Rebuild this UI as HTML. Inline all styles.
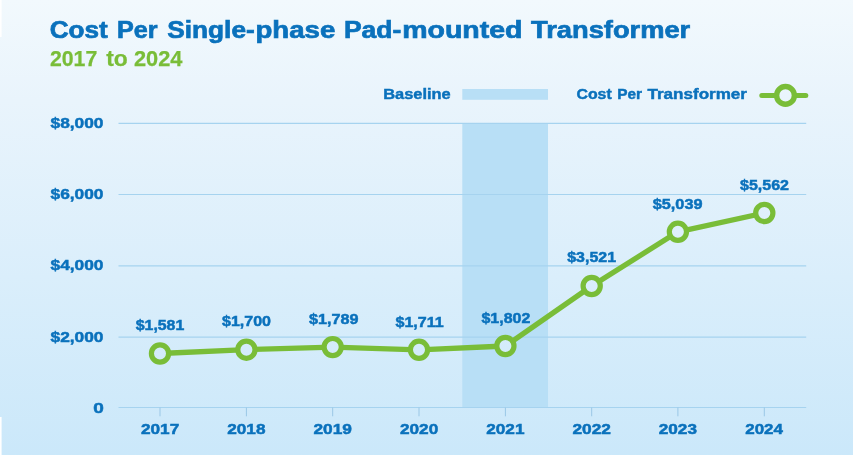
<!DOCTYPE html>
<html><head><meta charset="utf-8"><title>Cost Per Single-phase Pad-mounted Transformer</title>
<style>
html,body{margin:0;padding:0;background:#fff;}
body{width:853px;height:455px;overflow:hidden;}
svg{display:block;}
text{font-family:"Liberation Sans",sans-serif;font-weight:bold;}
</style></head><body>
<svg width="853" height="455" viewBox="0 0 853 455">
<defs>
<linearGradient id="bg" gradientUnits="userSpaceOnUse" x1="0" y1="0" x2="0" y2="455">
<stop offset="0" stop-color="#f2f9fd"/>
<stop offset="0.22" stop-color="#e9f4fc"/>
<stop offset="1" stop-color="#cbe8fa"/>
</linearGradient>
</defs>
<rect width="853" height="455" fill="url(#bg)"/>
<rect x="0" y="0" width="1.6" height="37" fill="#fff"/>
<rect x="0" y="417" width="1.6" height="38" fill="#fff"/>
<rect x="462.3" y="123" width="85.7" height="284.6" fill="#b8dff6"/>
<rect x="462.3" y="89" width="85.7" height="10.8" fill="#b8dff6"/>

<g stroke="#a6d3ef" stroke-width="1.2">
<line x1="118.5" x2="806.2" y1="123.3" y2="123.3"/>
<line x1="118.5" x2="806.2" y1="194.5" y2="194.5"/>
<line x1="118.5" x2="806.2" y1="265.8" y2="265.8"/>
<line x1="118.5" x2="806.2" y1="337.1" y2="337.1"/>
<line x1="118.5" x2="806.2" y1="407.5" y2="407.5"/>
<line x1="160.0" x2="160.0" y1="407.5" y2="416.3" stroke-width="1" stroke="#9ac7e6"/>
<line x1="246.4" x2="246.4" y1="407.5" y2="416.3" stroke-width="1" stroke="#9ac7e6"/>
<line x1="332.7" x2="332.7" y1="407.5" y2="416.3" stroke-width="1" stroke="#9ac7e6"/>
<line x1="419.0" x2="419.0" y1="407.5" y2="416.3" stroke-width="1" stroke="#9ac7e6"/>
<line x1="505.4" x2="505.4" y1="407.5" y2="416.3" stroke-width="1" stroke="#9ac7e6"/>
<line x1="591.7" x2="591.7" y1="407.5" y2="416.3" stroke-width="1" stroke="#9ac7e6"/>
<line x1="677.9" x2="677.9" y1="407.5" y2="416.3" stroke-width="1" stroke="#9ac7e6"/>
<line x1="764.3" x2="764.3" y1="407.5" y2="416.3" stroke-width="1" stroke="#9ac7e6"/>
</g>
<text font-size="24.4" fill="#0a71bc" stroke="#0a71bc" stroke-width="0.7">
<tspan x="49.74" y="37.8" textLength="58.01" lengthAdjust="spacingAndGlyphs">Cost</tspan> <tspan x="116.95" y="37.8" textLength="40.55" lengthAdjust="spacingAndGlyphs">Per</tspan> <tspan x="167.25" y="37.8" textLength="87.51" lengthAdjust="spacingAndGlyphs">Single-</tspan><tspan x="255.47" y="37.8" textLength="79.8" lengthAdjust="spacingAndGlyphs">phase</tspan> <tspan x="343.94" y="37.8" textLength="57.34" lengthAdjust="spacingAndGlyphs">Pad-</tspan><tspan x="402.22" y="37.8" textLength="120.32" lengthAdjust="spacingAndGlyphs">mounted</tspan> <tspan x="531.0" y="37.8" textLength="159.25" lengthAdjust="spacingAndGlyphs">Transformer</tspan>
</text>
<text font-size="21.3" fill="#79bd38" stroke="#79bd38" stroke-width="0.25">
<tspan x="49.98" y="65.5" textLength="47.29" lengthAdjust="spacingAndGlyphs">2017</tspan> <tspan x="106.25" y="65.5" textLength="21.54" lengthAdjust="spacingAndGlyphs">to</tspan> <tspan x="133.99" y="65.5" textLength="48.51" lengthAdjust="spacingAndGlyphs">2024</tspan>
</text>
<text font-size="15.0" fill="#0a71bc" stroke="#0a71bc" stroke-width="0.45">
<tspan x="383.24" y="98.9" textLength="67.52" lengthAdjust="spacingAndGlyphs">Baseline</tspan>
</text>
<text font-size="15.0" fill="#0a71bc" stroke="#0a71bc" stroke-width="0.45">
<tspan x="576.49" y="98.9" textLength="35.25" lengthAdjust="spacingAndGlyphs">Cost</tspan> <tspan x="617.22" y="98.9" textLength="24.77" lengthAdjust="spacingAndGlyphs">Per</tspan> <tspan x="647.5" y="98.9" textLength="99.5" lengthAdjust="spacingAndGlyphs">Transformer</tspan>
</text>
<g font-size="15.2" fill="#0a71bc" stroke="#0a71bc" stroke-width="0.5">
<text x="50.5" y="127.8" textLength="53.0" lengthAdjust="spacingAndGlyphs">$8,000</text>
<text x="50.5" y="199.1" textLength="53.0" lengthAdjust="spacingAndGlyphs">$6,000</text>
<text x="50.5" y="270.4" textLength="53.0" lengthAdjust="spacingAndGlyphs">$4,000</text>
<text x="50.5" y="341.5" textLength="53.0" lengthAdjust="spacingAndGlyphs">$2,000</text>
<text x="93.22" y="413.3" textLength="10.57" lengthAdjust="spacingAndGlyphs">0</text>
<text x="140.99" y="434.0" textLength="38.27" lengthAdjust="spacingAndGlyphs">2017</text>
<text x="227.25" y="434.0" textLength="38.26" lengthAdjust="spacingAndGlyphs">2018</text>
<text x="313.49" y="434.0" textLength="38.52" lengthAdjust="spacingAndGlyphs">2019</text>
<text x="399.99" y="434.0" textLength="38.27" lengthAdjust="spacingAndGlyphs">2020</text>
<text x="486.25" y="434.0" textLength="38.26" lengthAdjust="spacingAndGlyphs">2021</text>
<text x="572.49" y="434.0" textLength="38.52" lengthAdjust="spacingAndGlyphs">2022</text>
<text x="658.75" y="434.0" textLength="38.26" lengthAdjust="spacingAndGlyphs">2023</text>
<text x="745.25" y="434.0" textLength="37.75" lengthAdjust="spacingAndGlyphs">2024</text>
<text x="135.75" y="330.1" textLength="48.5" lengthAdjust="spacingAndGlyphs">$1,581</text>
<text x="222.0" y="326.3" textLength="49.0" lengthAdjust="spacingAndGlyphs">$1,700</text>
<text x="309.0" y="323.5" textLength="49.5" lengthAdjust="spacingAndGlyphs">$1,789</text>
<text x="395.5" y="327.3" textLength="48.25" lengthAdjust="spacingAndGlyphs">$1,711</text>
<text x="481.5" y="322.9" textLength="48.75" lengthAdjust="spacingAndGlyphs">$1,802</text>
<text x="567.25" y="262.3" textLength="48.75" lengthAdjust="spacingAndGlyphs">$3,521</text>
<text x="652.75" y="208.8" textLength="49.75" lengthAdjust="spacingAndGlyphs">$5,039</text>
<text x="740.0" y="189.7" textLength="49.0" lengthAdjust="spacingAndGlyphs">$5,562</text>
</g>
<line x1="761.8" x2="805.8" y1="95.4" y2="95.4" stroke="#79bd38" stroke-width="5" stroke-linecap="round"/>
<circle cx="785.5" cy="95.4" r="8.85" fill="url(#bg)" stroke="#79bd38" stroke-width="5.4"/>
<polyline fill="none" stroke="#79bd38" stroke-width="5.3" stroke-linejoin="round" points="160.0,353.5 246.4,349.7 332.7,347.1 419.0,349.8 505.4,346.0 591.7,286.0 677.9,231.8 764.3,213.0"/>
<g fill="url(#bg)" stroke="#79bd38" stroke-width="5.2">
<circle cx="160.0" cy="353.5" r="8.6"/>
<circle cx="246.4" cy="349.7" r="8.6"/>
<circle cx="332.7" cy="347.1" r="8.6"/>
<circle cx="419.0" cy="349.8" r="8.6"/>
<circle cx="505.4" cy="346.0" r="8.6"/>
<circle cx="591.7" cy="286.0" r="8.6"/>
<circle cx="677.9" cy="231.8" r="8.6"/>
<circle cx="764.3" cy="213.0" r="8.6"/>
</g>
</svg>
</body></html>
